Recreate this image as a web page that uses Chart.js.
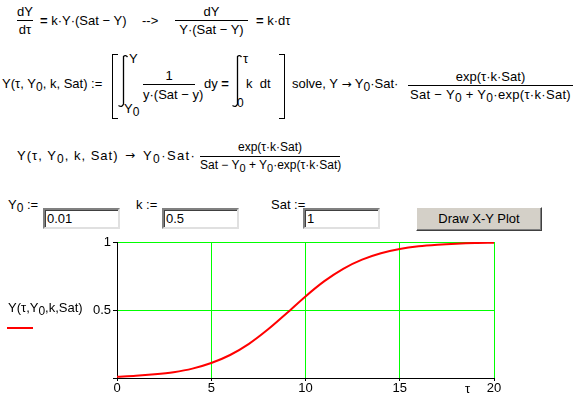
<!DOCTYPE html>
<html lang="en">
<head>
<meta charset="UTF-8">
<title>Logistic growth - X-Y Plot</title>
<script src="https://cdn.jsdelivr.net/npm/chart.js"></script>
<style>
    body { margin: 0; width: 577px; height: 400px; overflow: hidden; position: relative; background: #fff;
           font-family: Arial, "Liberation Sans", sans-serif; font-size: 13px; color: #000; }
    .t { position: absolute; white-space: nowrap; line-height: 13px; }
    .c { text-align: center; }
    .bar { position: absolute; height: 1px; background: #000; }
    .s { font-size: 12px; position: relative; top: 3px; }
    .ar { font-family: "DejaVu Sans", sans-serif; font-size: 12px; }
    .brk { position: absolute; width: 5px; border-top: 1px solid #000; border-bottom: 1px solid #000; }
    .int { position: absolute; }
    .box { position: absolute; height: 17px; background: #fff; border: 2px solid; border-color: #808080 #e0e0e0 #e0e0e0 #808080;
           box-shadow: inset 1px 1px 0 #404040; padding-left: 2px; line-height: 17px; box-sizing: content-box; }
    .btn { position: absolute; background: #d4d0c8; border: 1px solid; border-color: #fff #404040 #404040 #fff;
           box-shadow: inset -1px -1px 0 #808080; text-align: center; line-height: 21px; }
    #plot { position: absolute; left: 0; top: 230px; }
</style>
</head>
<body>
    <!-- line 1 -->
    <div class="t c" style="left:17px;width:16px;top:5px">dY</div>
    <div class="bar" style="left:17px;width:16px;top:20px"></div>
    <div class="t c" style="left:17px;width:16px;top:23px">dτ</div>
    <div class="t" style="left:40px;top:14px"><b>=</b> k·Y·(Sat − Y)</div>
    <div class="t" style="left:142px;top:14px">--&gt;</div>
    <div class="t c" style="left:175px;width:73px;top:5px">dY</div>
    <div class="bar" style="left:175px;width:73px;top:20px"></div>
    <div class="t c" style="left:175px;width:73px;top:23px">Y·(Sat − Y)</div>
    <div class="t" style="left:256px;top:14px"><b>=</b> k·dτ</div>

    <!-- line 2 -->
    <div class="t" style="left:2px;top:77px">Y(τ, Y<span class="s">0</span>, k, Sat) :=</div>
    <div class="brk" style="left:112px;top:54px;height:63px;border-left:1px solid #000"></div>
    <svg class="int" style="left:117px;top:53px" width="12" height="56"><path d="M10.5 4 Q8.5 1.5 6.5 3.5 L6.5 51 Q5 55 1.5 52.5" fill="none" stroke="#000" stroke-width="1.3"/></svg>
    <div class="t" style="left:129px;top:52px">Y</div>
    <div class="t" style="left:124px;top:102px">Y<span class="s">0</span></div>
    <div class="t c" style="left:143px;width:52px;top:69px">1</div>
    <div class="bar" style="left:143px;width:52px;top:84px"></div>
    <div class="t c" style="left:143px;width:52px;top:88px">y·(Sat − y)</div>
    <div class="t" style="left:204px;top:77px">dy <b>=</b></div>
    <svg class="int" style="left:231px;top:53px" width="12" height="56"><path d="M10.5 4 Q8.5 1.5 6.5 3.5 L6.5 51 Q5 55 1.5 52.5" fill="none" stroke="#000" stroke-width="1.3"/></svg>
    <div class="t" style="left:243px;top:52px">τ</div>
    <div class="t" style="left:237px;top:97px;font-size:12px">0</div>
    <div class="t" style="left:246px;top:77px">k&nbsp; dt</div>
    <div class="brk" style="left:279px;top:54px;height:63px;border-right:1px solid #000"></div>
    <div class="t" style="left:292px;top:77px">solve, Y <span class="ar">→</span> Y<span class="s">0</span>·Sat·</div>
    <div class="t c" style="left:408px;width:165px;top:70px">exp(τ·k·Sat)</div>
    <div class="bar" style="left:408px;width:165px;top:85px"></div>
    <div class="t c" style="left:408px;width:165px;top:88px;letter-spacing:0.3px">Sat − Y<span class="s">0</span> + Y<span class="s">0</span>·exp(τ·k·Sat)</div>

    <!-- line 3 -->
    <div class="t" style="left:17px;top:149px;letter-spacing:1px">Y(τ, Y<span class="s">0</span>, k, Sat)</div>
    <div class="t ar" style="left:125px;top:149px">→</div>
    <div class="t" style="left:143px;top:149px;letter-spacing:1.4px">Y<span class="s">0</span>·Sat·</div>
    <div class="t c" style="left:200px;width:140px;top:141px;font-size:12px">exp(τ·k·Sat)</div>
    <div class="bar" style="left:200px;width:140px;top:156px"></div>
    <div class="t c" style="left:200px;width:140px;top:159px;font-size:12px">Sat − Y<span class="s" style="font-size:11px">0</span> + Y<span class="s" style="font-size:11px">0</span>·exp(τ·k·Sat)</div>

    <!-- inputs -->
    <div class="t" style="left:8px;top:198px">Y<span class="s">0</span> :=</div>
    <div class="box" style="left:43px;top:208px;width:71px">0.01</div>
    <div class="t" style="left:136px;top:198px">k :=</div>
    <div class="box" style="left:162px;top:208px;width:71px">0.5</div>
    <div class="t" style="left:271px;top:198px">Sat :=</div>
    <div class="box" style="left:303px;top:208px;width:71px">1</div>
    <div class="btn" style="left:416px;top:207px;width:124px;height:22px">Draw X-Y Plot</div>

    <canvas id="plot" width="577" height="170"></canvas>

    <!-- trace label -->
    <div class="t" style="left:8px;top:301px">Y(τ,Y<span class="s">0</span>,k,Sat)</div>
    <div class="bar" style="left:7px;width:26px;top:327px;height:2px;background:#f00"></div>
    <div class="t" style="left:465px;top:382px">τ</div>

<script>
    // values (Y0 = 0.01, k = 0.5, Sat = 1)
    const tau = [0, 1, 2, 3, 4, 5, 6, 7, 8, 9, 10, 11, 12, 13, 14, 15, 16, 17, 18, 19, 20];
    const yValues = [0.010, 0.016, 0.027, 0.043, 0.069, 0.110, 0.169, 0.251, 0.356, 0.476, 0.600,
                     0.712, 0.803, 0.870, 0.917, 0.948, 0.968, 0.980, 0.988, 0.993, 0.995];
    const xTicks = [0, 5, 10, 15, 20];
    const yTicks = [0, 0.5, 1];

    const fontSpec = { family: 'Arial, "Liberation Sans", sans-serif', size: 13 };

    const ctx = document.getElementById('plot').getContext('2d');
    const chart = new Chart(ctx, {
        type: 'line',
        data: {
            datasets: [{
                label: 'Y(τ,Y0,k,Sat)',
                data: tau.map((t, i) => ({ x: t, y: yValues[i] })),
                borderColor: '#ff0000',
                borderWidth: 2,
                pointRadius: 0,
                cubicInterpolationMode: 'monotone',
                fill: false
            }]
        },
        options: {
            responsive: false,
            animation: false,
            layout: { padding: { left: 0, top: 12, right: 83, bottom: 0 } },
            plugins: { legend: { display: false }, tooltip: { enabled: false } },
            scales: {
                x: {
                    type: 'linear', min: 0, max: 20,
                    afterBuildTicks: s => { s.ticks = xTicks.map(v => ({ value: v })); },
                    afterFit: s => { s.height = 22; },
                    grid: { color: '#00ff00', tickColor: '#000', tickLength: 3 },
                    border: { color: '#000', width: 1 },
                    ticks: { color: '#000', font: fontSpec, padding: 0, maxRotation: 0, autoSkip: false }
                },
                y: {
                    type: 'linear', min: 0, max: 1,
                    afterBuildTicks: s => { s.ticks = yTicks.map(v => ({ value: v })); },
                    afterFit: s => { s.width = 117; },
                    grid: { color: '#00ff00', tickColor: '#000', tickLength: 4 },
                    border: { color: '#000', width: 1 },
                    ticks: { color: '#000', font: fontSpec, padding: 2,
                             callback: v => v === 0 ? '' : String(v) }
                }
            }
        }
    });
</script>
</body>
</html>
